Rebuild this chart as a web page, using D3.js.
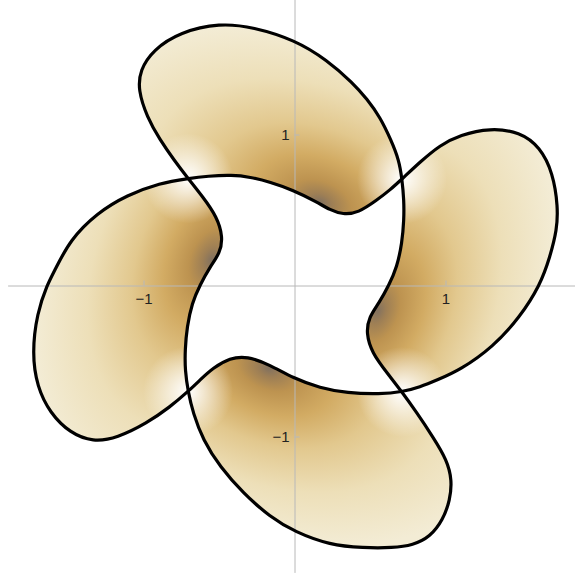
<!DOCTYPE html>
<html>
<head>
<meta charset="utf-8">
<script src="https://cdn.jsdelivr.net/npm/d3@7"></script>
<style>
  body { margin: 0; background: #fff; }
  .xAxis text, .yAxis text { font-family: "Liberation Sans", Arial, sans-serif; font-size: 15px; }
</style>
</head>
<body>
<div id="chart"></div>
<script>
// curve A : the loop with the left / right lobes (plot units)
var ringA = [
  [-0.705,0.709],[-0.573,0.725],[-0.414,0.732],[-0.295,0.719],[-0.162,0.685],[-0.010,0.632],
  [0.149,0.553],[0.235,0.500],[0.321,0.470],[0.421,0.480],[0.546,0.566],[0.632,0.632],[0.712,0.705],
  [0.831,0.818],[0.964,0.930],[1.096,0.997],[1.295,1.043],[1.493,1.017],[1.626,0.917],[1.712,0.745],
  [1.745,0.520],[1.738,0.368],[1.692,0.189],[1.626,0.000],[1.493,-0.209],[1.315,-0.407],[1.096,-0.560],
  [0.944,-0.626],[0.831,-0.672],[0.712,-0.705],
  [0.566,-0.719],[0.348,-0.712],[0.169,-0.679],[-0.010,-0.613],[-0.162,-0.526],[-0.315,-0.467],
  [-0.427,-0.480],[-0.540,-0.546],[-0.626,-0.626],[-0.705,-0.702],
  [-0.825,-0.805],[-0.977,-0.911],[-1.175,-1.010],[-1.334,-1.036],[-1.487,-0.977],[-1.619,-0.844],
  [-1.705,-0.672],[-1.738,-0.447],[-1.705,-0.182],[-1.639,0.003],[-1.586,0.103],[-1.487,0.301],
  [-1.308,0.480],[-1.109,0.599],[-0.891,0.679]
]

// curve B : the loop with the top / bottom lobes
var ringB = [
  [0.712,0.705],[0.692,0.831],[0.639,0.964],[0.566,1.116],[0.480,1.235],[0.387,1.341],[0.215,1.493],
  [0.003,1.626],[-0.275,1.712],[-0.493,1.738],[-0.758,1.679],[-0.937,1.560],[-1.023,1.427],
  [-1.036,1.295],[-0.977,1.116],[-0.891,0.964],[-0.798,0.831],[-0.705,0.709],
  [-0.606,0.586],[-0.513,0.454],[-0.474,0.321],[-0.493,0.215],[-0.560,0.123],[-0.626,0.003],
  [-0.679,-0.116],[-0.712,-0.275],[-0.725,-0.427],[-0.725,-0.560],[-0.705,-0.702],
  [-0.672,-0.844],[-0.606,-1.023],[-0.493,-1.202],[-0.341,-1.374],[-0.162,-1.533],[0.003,-1.632],
  [0.235,-1.719],[0.454,-1.738],[0.652,-1.738],[0.785,-1.719],[0.897,-1.666],[0.983,-1.553],
  [1.030,-1.421],[1.043,-1.288],[1.010,-1.156],[0.917,-1.003],[0.811,-0.844],[0.712,-0.705],
  [0.613,-0.579],[0.513,-0.447],[0.474,-0.315],[0.493,-0.209],[0.560,-0.116],[0.626,0.003],
  [0.679,0.123],[0.712,0.281],[0.725,0.434],[0.725,0.566]
]

// where the two loops cross
var crossings = [[0.712,0.705],[-0.705,0.709],[-0.705,-0.702],[0.712,-0.705]]

var tickValues = [-1, 1]

// shading of each lobe: dark patch along the inner edge, its direction (deg), and the sector the lobe sits in
var lobes = [
  {id: "top",    dark: [0.170, 0.550],   angle: 21.7,   sector: [[0,0],[-4,4],[4,4]]},
  {id: "left",   dark: [-0.550, 0.170],  angle: -68.3,  sector: [[0,0],[-4,-4],[-4,4]]},
  {id: "bottom", dark: [-0.170, -0.550], angle: -158.3, sector: [[0,0],[4,-4],[-4,-4]]},
  {id: "right",  dark: [0.550, -0.170],  angle: 111.7,  sector: [[0,0],[4,4],[4,-4]]}
]
var shadeStops = [
  [0, "#82715f"], [0.05, "#9e7f55"], [0.13, "#bd9350"], [0.27, "#d2ab63"],
  [0.45, "#e2c88e"], [0.7, "#eddfb8"], [1, "#f3ecd5"]
]

var w = 575, h = 581
var x = d3.scaleLinear().domain([-1.9, 1.9]).range([7.6, 581.4])
var y = d3.scaleLinear().domain([-1.9, 1.9]).range([572.4, -1.4])

var svg = d3.select("#chart").append("svg")
    .attr("width", w)
    .attr("height", h)

var loop = d3.line()
    .x(d => x(d[0]))
    .y(d => y(d[1]))
    .curve(d3.curveBasisClosed)
var poly = d3.line()
    .x(d => x(d[0]))
    .y(d => y(d[1]))

var defs = svg.append("defs")

// lobes = inside exactly one of the loops
defs.append("clipPath").attr("id", "lobes")
  .append("path")
    .attr("d", loop(ringA) + loop(ringB))
    .attr("clip-rule", "evenodd")

lobes.forEach(function(l){
  var cx = x(l.dark[0]), cy = y(l.dark[1])
  var g = defs.append("radialGradient")
      .attr("id", "shade-" + l.id)
      .attr("gradientUnits", "userSpaceOnUse")
      .attr("cx", cx)
      .attr("cy", cy)
      .attr("r", 180)
      .attr("gradientTransform", `translate(${cx},${cy}) rotate(${l.angle}) scale(1.4,0.9) translate(${-cx},${-cy})`)
  shadeStops.forEach(function(s){
    g.append("stop").attr("offset", s[0]).attr("stop-color", s[1])
  })
})

crossings.forEach(function(c, i){
  var g = defs.append("radialGradient")
      .attr("id", "glow-" + i)
      .attr("gradientUnits", "userSpaceOnUse")
      .attr("cx", x(c[0]))
      .attr("cy", y(c[1]))
      .attr("r", 45)
  g.append("stop").attr("offset", 0).attr("stop-color", "#fff").attr("stop-opacity", 1)
  g.append("stop").attr("offset", 0.3).attr("stop-color", "#fff").attr("stop-opacity", 0.7)
  g.append("stop").attr("offset", 1).attr("stop-color", "#fff").attr("stop-opacity", 0)
})

var fill = svg.append("g").attr("clip-path", "url(#lobes)")
fill.selectAll("path.sector")
  .data(lobes)
  .enter().append("path")
    .attr("class", "sector")
    .attr("d", d => poly(d.sector) + "Z")
    .attr("fill", d => "url(#shade-" + d.id + ")")
fill.selectAll("circle.glow")
  .data(crossings)
  .enter().append("circle")
    .attr("class", "glow")
    .attr("cx", d => x(d[0]))
    .attr("cy", d => y(d[1]))
    .attr("r", 45)
    .attr("fill", (d, i) => "url(#glow-" + i + ")")

// axes through the origin
var xAxis = d3.axisBottom(x)
    .tickValues(tickValues)
    .tickSizeInner(-5)
    .tickSizeOuter(0)
    .tickPadding(8)
    .tickFormat(d3.format("d"))
var yAxis = d3.axisLeft(y)
    .tickValues(tickValues)
    .tickSizeInner(-5)
    .tickSizeOuter(0)
    .tickPadding(5)
    .tickFormat(d3.format("d"))

svg.append("g")
    .attr("class", "xAxis")
    .attr("transform", `translate(0, ${y(0)})`)
    .call(xAxis)
svg.append("g")
    .attr("class", "yAxis")
    .attr("transform", `translate(${x(0)}, 0)`)
    .call(yAxis)

svg.selectAll(".xAxis, .yAxis")
    .attr("font-size", 15)
    .attr("font-family", "Liberation Sans, Arial, sans-serif")
svg.selectAll(".xAxis path, .yAxis path, .xAxis line, .yAxis line")
    .attr("stroke", "#b8b8b8")
    .attr("stroke-width", 1)
svg.selectAll(".xAxis text, .yAxis text")
    .attr("font-size", 15)
    .attr("fill", "#222")

// the two loops
svg.selectAll("path.ring")
  .data([ringA, ringB])
  .enter().append("path")
    .attr("class", "ring")
    .attr("d", loop)
    .attr("fill", "none")
    .attr("stroke", "#000")
    .attr("stroke-width", 3.2)
    .attr("stroke-linejoin", "round")
</script>
</body>
</html>
